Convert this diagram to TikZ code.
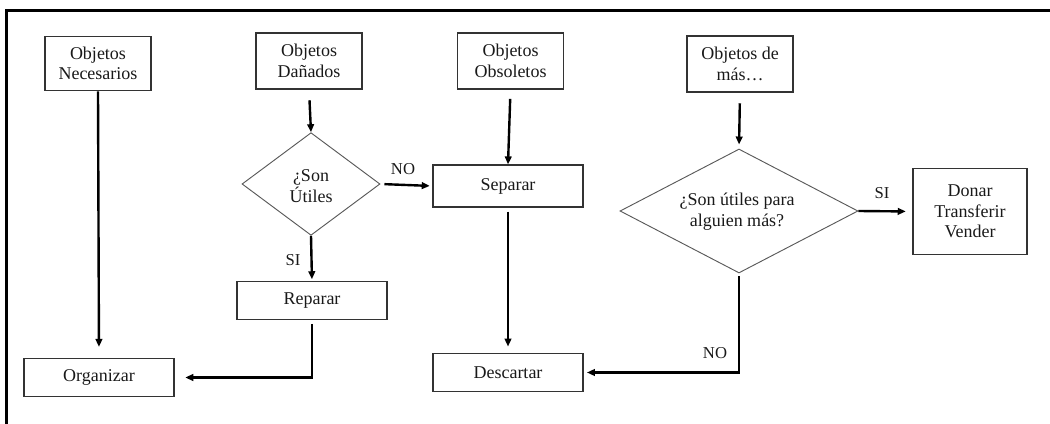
\documentclass[tikz,border=0pt]{standalone}
\usepackage{fontspec}
\setmainfont{Liberation Serif}
\usetikzlibrary{shapes.geometric,arrows.meta}
\begin{document}
\begin{tikzpicture}[x=0.75pt,y=-0.75pt,
  every node/.style={font=\fontsize{13.5}{15.5}\selectfont, text=black!90},
  box/.style={draw=black!80, line width=0.9pt, rectangle, align=center, inner sep=0pt},
  decis/.style={draw=black!65, line width=0.7pt, diamond, align=center, inner sep=0pt},
  conn/.style={draw=black, line width=1.8pt, -{Triangle[length=6pt,width=5pt]}},
  lbl/.style={font=\fontsize{12.5}{14}\selectfont}]
\useasboundingbox (0,0) rectangle (1050,424);
\draw[line width=2.2pt] (6.5,424) -- (6.5,10.5) -- (1050,10.5);
% boxes
\node[box, minimum width=79.5pt, minimum height=41pt] (nec) at (98,63.5) {Objetos\\Necesarios};
\node[box, minimum width=79.5pt, minimum height=42pt] (dan) at (309,61) {Objetos\\Dañados};
\node[box, minimum width=79pt, minimum height=42pt] (obs) at (510.5,61) {Objetos\\Obsoletos};
\node[box, minimum width=79.5pt, minimum height=42pt] (mas) at (740,64) {Objetos de\\más…};
\node[box, minimum width=112.5pt, minimum height=31.5pt] (sep) at (508,186) {Separar};
\node[box, minimum width=112.5pt, minimum height=28pt] (rep) at (312,300.5) {Reparar};
\node[box, minimum width=112.5pt, minimum height=29pt] (org) at (99,377.5) {Organizar};
\node[box, minimum width=112.5pt, minimum height=29pt] (des) at (508,372.5) {Descartar};
\node[box, minimum width=85.5pt, minimum height=65pt] (don) at (970,211.5) {Donar\\Transferir\\Vender};
% decisions
\node[decis, minimum width=103.5pt, minimum height=77pt] (d1) at (311,184) {};
\node[align=center] (t1) at (311,186) {¿Son\\Útiles};
\node[decis, minimum width=178.5pt, minimum height=93pt] (d2) at (739,211) {};
\node[align=center] (t2) at (737,212) {¿Son útiles para\\alguien más?};
% connectors
\draw[conn, shorten >=8pt] (nec.south) -- (org.north);
\draw[conn, shorten <=8pt] (dan.south) -- (d1.north);
\draw[conn, shorten <=3pt, shorten >=2pt] (d1.east) -- (sep.west);
\node[lbl] (no1) at (403,169) {NO};
\draw[conn, shorten >=1.5pt] (d1.south) -- (rep.north);
\node[lbl] (si1) at (293,260) {SI};
\draw[conn, shorten <=3pt, shorten >=8pt] (rep.south) |- (org.east);
\draw[conn, shorten <=7pt] (obs.south) -- (sep.north);
\draw[conn, shorten <=3pt, shorten >=4.5pt] (sep.south) -- (des.north);
\draw[conn, shorten <=8pt, shorten >=3pt] (mas.south) -- (d2.north);
\draw[conn, shorten >=5pt] (d2.east) -- (don.west);
\node[lbl] (si2) at (882,193) {SI};
\draw[conn, shorten <=2pt, shorten >=2.5pt] (d2.south) |- (des.east);
\node[lbl] (no2) at (715,353) {NO};
\end{tikzpicture}
\end{document}
